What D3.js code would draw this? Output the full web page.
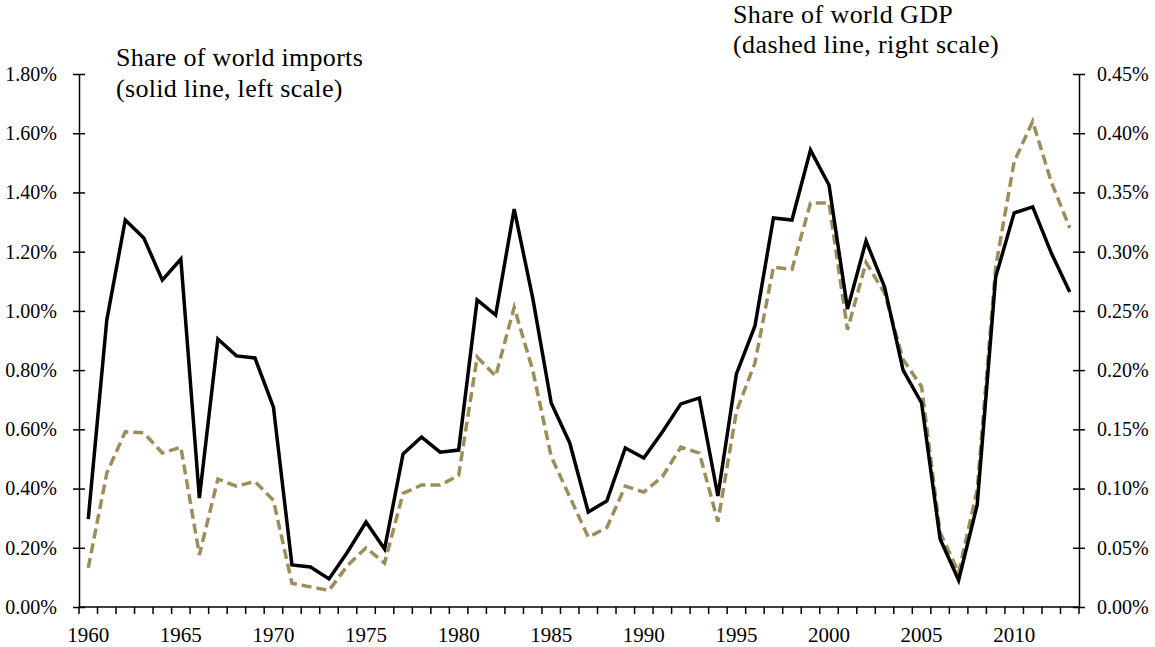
<!DOCTYPE html>
<html lang="en">
  <head>
    <meta charset="UTF-8">
    <title>Share of world imports and GDP</title>
    <style>
      body { margin: 0; background: #fff; }
      text { font-family: "Liberation Serif", "Times New Roman", serif; fill: #000; }
      .axis path, .axis line { stroke: #000; stroke-width: 1.5; }
    </style>
  </head>
  <body>
    <svg id="chart"></svg>

    <script src="https://cdn.jsdelivr.net/npm/d3@7"></script>

    <script>
      // Years on the category axis
      var years = d3.range(1960, 2014);

      // Share of world imports, percent (solid line, left scale)
      var imports = [
        0.297, 0.969, 1.307, 1.246, 1.104, 1.175, 0.368, 0.905, 0.848, 0.841,
        0.675, 0.142, 0.135, 0.095, 0.186, 0.287, 0.196, 0.517, 0.574, 0.523,
        0.530, 1.037, 0.986, 1.344, 1.044, 0.689, 0.554, 0.321, 0.358, 0.537,
        0.503, 0.591, 0.686, 0.706, 0.375, 0.787, 0.949, 1.314, 1.307, 1.543,
        1.425, 1.006, 1.236, 1.081, 0.800, 0.689, 0.230, 0.091, 0.344, 1.114,
        1.331, 1.351, 1.196, 1.064
      ];

      // Share of world GDP, percent (dashed line, right scale)
      var gdp = [
        0.033, 0.113, 0.148, 0.147, 0.130, 0.135, 0.044, 0.108, 0.102, 0.106,
        0.090, 0.020, 0.017, 0.014, 0.035, 0.050, 0.037, 0.096, 0.103, 0.103,
        0.111, 0.211, 0.195, 0.253, 0.200, 0.127, 0.093, 0.059, 0.067, 0.102,
        0.097, 0.110, 0.135, 0.130, 0.072, 0.165, 0.206, 0.287, 0.285, 0.341,
        0.341, 0.234, 0.291, 0.265, 0.209, 0.186, 0.063, 0.029, 0.099, 0.287,
        0.376, 0.410, 0.359, 0.320
      ];

      var leftTicks = [0, 0.2, 0.4, 0.6, 0.8, 1.0, 1.2, 1.4, 1.6, 1.8];
      var rightTicks = [0, 0.05, 0.1, 0.15, 0.2, 0.25, 0.3, 0.35, 0.4, 0.45];
      var yearLabels = [1960, 1965, 1970, 1975, 1980, 1985, 1990, 1995, 2000, 2005, 2010];

      var width = 1155, height = 647;
      var plotLeft = 79, plotRight = 1079, plotTop = 74, plotBottom = 607;

      var svg = d3.select("#chart")
        .attr("width", width)
        .attr("height", height);

      var x = d3.scaleBand().domain(years).range([plotLeft, plotRight]);
      var yL = d3.scaleLinear().domain([0, 1.8]).range([plotBottom, plotTop]);
      var yR = d3.scaleLinear().domain([0, 0.45]).range([plotBottom, plotTop]);

      var fmt = function(d) { return d.toFixed(2) + "%"; };

      // Left axis, ticks crossing the line
      var gL = svg.append("g").attr("class", "axis")
        .attr("transform", "translate(" + plotLeft + ",0)")
        .call(d3.axisLeft(yL).tickValues(leftTicks).tickFormat(fmt).tickSizeInner(6).tickSizeOuter(0));
      gL.selectAll(".tick line").attr("x1", 6).attr("x2", -6);
      gL.selectAll(".tick text")
        .attr("x", -22)
        .style("font-size", "20px");

      // Right axis
      var gR = svg.append("g").attr("class", "axis")
        .attr("transform", "translate(" + plotRight + ",0)")
        .call(d3.axisRight(yR).tickValues(rightTicks).tickFormat(fmt).tickSizeInner(6).tickSizeOuter(0));
      gR.selectAll(".tick line").attr("x1", -6).attr("x2", 6);
      gR.selectAll(".tick text")
        .attr("x", 18)
        .style("font-size", "20px");

      // Bottom axis: ticks at category boundaries, labels every five years
      var gB = svg.append("g").attr("class", "axis")
        .attr("transform", "translate(0," + plotBottom + ")");
      gB.append("line")
        .attr("x1", plotLeft).attr("x2", plotRight)
        .attr("stroke", "#000").attr("stroke-width", 1.5);
      gB.selectAll(".yt")
        .data(years.concat([2014]))
        .enter().append("line")
        .attr("class", "yt")
        .attr("x1", function(d) { return d === 2014 ? plotRight : x(d); })
        .attr("x2", function(d) { return d === 2014 ? plotRight : x(d); })
        .attr("y1", 0).attr("y2", 7);
      gB.selectAll(".yl")
        .data(yearLabels)
        .enter().append("text")
        .attr("class", "yl")
        .attr("x", function(d) { return x(d) + x.bandwidth() / 2; })
        .attr("y", 35)
        .attr("text-anchor", "middle")
        .style("font-size", "21px")
        .text(function(d) { return d; });

      var cx = function(d, i) { return x(years[i]) + x.bandwidth() / 2; };

      // Dashed GDP line
      svg.append("path")
        .datum(gdp)
        .attr("fill", "none")
        .attr("stroke", "#9b8e5a")
        .attr("stroke-width", 3.5)
        .attr("stroke-dasharray", "10,5")
        .attr("d", d3.line().x(cx).y(function(d) { return yR(d); }));

      // Solid imports line
      svg.append("path")
        .datum(imports)
        .attr("fill", "none")
        .attr("stroke", "#000")
        .attr("stroke-width", 3.5)
        .attr("d", d3.line().x(cx).y(function(d) { return yL(d); }));

      // Titles
      var t1 = svg.append("text").attr("x", 116).attr("y", 66)
        .style("font-size", "26px").style("letter-spacing", "0.3px");
      t1.append("tspan").attr("x", 116).text("Share of world imports");
      t1.append("tspan").attr("x", 116).attr("dy", 31).text("(solid line, left scale)");

      var t2 = svg.append("text").attr("x", 733).attr("y", 23)
        .style("font-size", "26px").style("letter-spacing", "0.4px");
      t2.append("tspan").attr("x", 733).text("Share of world GDP");
      t2.append("tspan").attr("x", 733).attr("dy", 30).text("(dashed line,  right scale)");
    </script>
  </body>
</html>
